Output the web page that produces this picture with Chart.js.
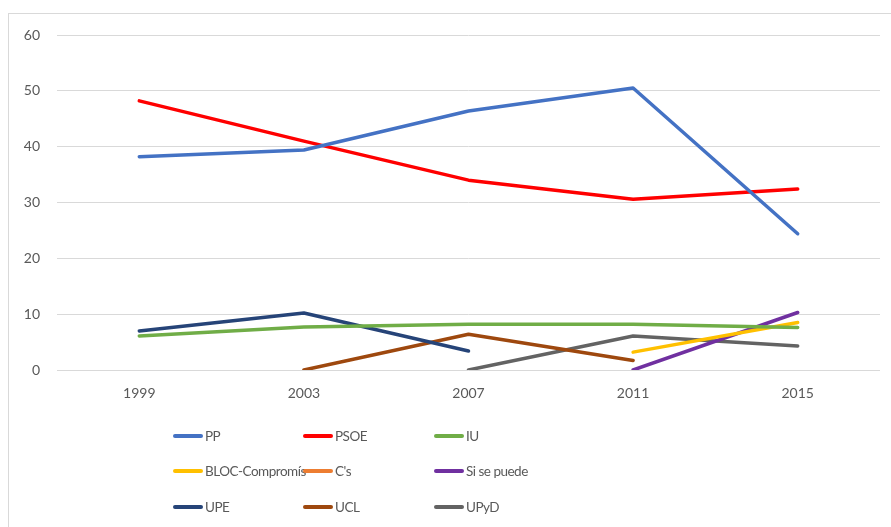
<!DOCTYPE html>
<html><head><meta charset="utf-8">
<script src="https://cdn.jsdelivr.net/npm/chart.js@4/dist/chart.umd.min.js"></script>
<style>
html,body{margin:0;padding:0;background:#fff;width:891px;height:527px;overflow:hidden;font-family:Lato,"Open Sans",sans-serif;}
#frame{position:absolute;left:8px;top:13px;width:900px;height:540px;border:1px solid #d9d9d9;box-sizing:border-box;}
#wrap{position:absolute;left:0;top:0;width:891px;height:527px;}
#legend{position:absolute;left:0;top:0;width:891px;height:527px;pointer-events:none;}
.li{position:absolute;display:flex;align-items:center;font-family:Lato,sans-serif;font-size:13.5px;letter-spacing:-0.5px;color:#595959;white-space:nowrap;}
.li span.sw{display:inline-block;width:30px;height:4px;border-radius:2px;margin-right:2px;}
</style></head>
<body>
<div id="frame"></div>
<div id="wrap"><canvas id="c" width="891" height="527"></canvas></div>
<div id="legend"></div>
<script>
const years = ["1999","2003","2007","2011","2015"];
const yTicks = [0,10,20,30,40,50,60];
const seriesNames = ["PP","PSOE","IU","BLOC-Compromís","C's","Si se puede","UPE","UCL","UPyD"];
const pp = [38.2, 39.4, 46.4, 50.5, 24.4];
const psoe = [48.2, 41.0, 34.0, 30.6, 32.4];
const iu = [6.1, 7.7, 8.2, 8.2, 7.6];
const bloc = [null, null, null, 3.2, 8.5];
const cs = [null, null, null, null, null];
const siSePuede = [null, null, null, 0, 10.3];
const upe = [7.0, 10.2, 3.4, null, null];
const ucl = [null, 0, 6.4, 1.7, null];
const upyd = [null, null, 0, 6.1, 4.3];

const seriesData = [pp, psoe, iu, bloc, cs, siSePuede, upe, ucl, upyd];
const colors = ["#4472C4","#FF0000","#70AD47","#FFC000","#ED7D31","#7030A0","#264478","#9E480E","#636363"];

const chart = new Chart(document.getElementById('c'), {
  type: 'line',
  data: {
    labels: years,
    datasets: seriesNames.map((n,i)=>({
      label: n, data: seriesData[i], borderColor: colors[i], backgroundColor: colors[i],
      borderWidth: 3.5, pointRadius: 0, pointHoverRadius: 0, tension: 0, spanGaps: false,
      borderCapStyle: 'round', borderJoinStyle: 'round'
    }))
  },
  options: {
    responsive: false, animation: false,
    layout: { padding: { left: 0, right: 11, top: 35, bottom: 0 } },
    plugins: { legend: { display: false }, tooltip: { enabled: false } },
    scales: {
      x: {
        offset: true,
        grid: { display: false, drawTicks: false },
        border: { display: false },
        ticks: { color: '#595959', font: { family: 'Lato', size: 14 }, padding: 15 },
        afterFit: s => { s.height = 157; }
      },
      y: {
        min: 0, max: 60,
        afterBuildTicks: s => { s.ticks = yTicks.map(v=>({value:v})); },
        grid: { color: '#d9d9d9', lineWidth: 1, drawTicks: false },
        border: { display: false },
        ticks: { color: '#595959', font: { family: 'Lato', size: 14 }, padding: 17 },
        afterFit: s => { s.width = 57; }
      }
    }
  }
});

// HTML legend in a 3-column grid, built from the chart's datasets
const lg = document.getElementById('legend');
const colX = [173, 303, 434];
const rowY = [436, 471, 507];
chart.data.datasets.forEach((ds,i)=>{
  const d = document.createElement('div');
  d.className = 'li';
  d.style.left = colX[i%3] + 'px';
  d.style.top = (rowY[Math.floor(i/3)] - 9) + 'px';
  d.style.height = '18px';
  d.innerHTML = '<span class="sw" style="background:'+ds.borderColor+'"></span>' + ds.label;
  lg.appendChild(d);
});
</script>
</body></html>
